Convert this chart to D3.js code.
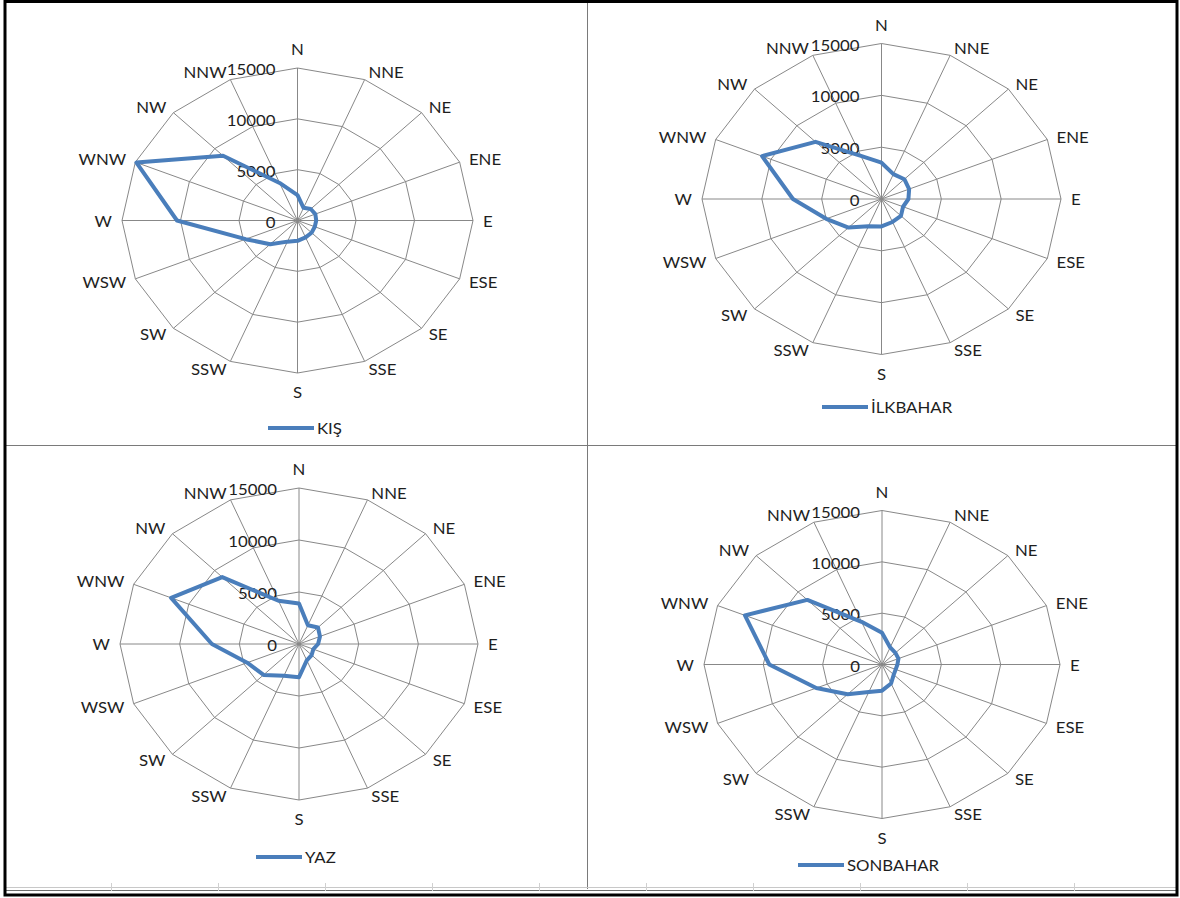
<!DOCTYPE html>
<html>
<head>
<meta charset="utf-8">
<script src="https://cdn.jsdelivr.net/npm/d3@7"></script>
<style>
  body { margin: 0; background: #fff; }
  text { font-family: Lato, 'Open Sans', sans-serif; fill: #1e1e1e; }
</style>
</head>
<body>
<div id="chart"></div>
<script>
// wind directions and seasonal counts
const directions = ['N', 'NNE', 'NE', 'ENE', 'E', 'ESE', 'SE', 'SSE', 'S', 'SSW', 'SW', 'WSW', 'W', 'WNW', 'NW', 'NNW']
const kis = [2500, 1350, 1600, 1650, 1600, 1600, 1700, 1800, 2000, 2250, 3300, 4800, 10300, 14900, 9000, 4000]
const ilkbahar = [3500, 2600, 2700, 2500, 2250, 1950, 2300, 2400, 2650, 2850, 3900, 5000, 7400, 10800, 7800, 4500]
const yaz = [3900, 1950, 2250, 1900, 1600, 1300, 1500, 1700, 3200, 3300, 4200, 4700, 7300, 11600, 9100, 4500]
const sonbahar = [3100, 1800, 1600, 1500, 1300, 1250, 1400, 2000, 2550, 2900, 4100, 6000, 9500, 12500, 8900, 4500]
const ticks = [0, 5000, 10000, 15000]
const seasons = ['KIŞ', 'İLKBAHAR', 'YAZ', 'SONBAHAR']

let width = 1180
let height = 898

let svg = d3
  .select('#chart')
  .append('svg')
  .attr('width', width)
  .attr('height', height)

// the picture is a bit stretched sideways, so each panel gets rx and ry
let panels = [
  { values: kis, cx: 297.5, cy: 220.5, rx: 175.5, ry: 152.5, lx: 268, ly: 428 },
  { values: ilkbahar, cx: 881.5, cy: 199, rx: 179.5, ry: 155.5, lx: 822, ly: 407 },
  { values: yaz, cx: 299, cy: 644, rx: 179, ry: 156, lx: 256, ly: 857 },
  { values: sonbahar, cx: 882, cy: 664.5, rx: 178, ry: 154, lx: 798, ly: 865 }
]

let r = d3.scaleLinear().domain([0, 15000]).range([0, 1])
let angle = d3
  .scalePoint()
  .domain(directions)
  .range([0, (2 * Math.PI * 15) / 16])

let stretch = 'scale(1.12,1)'
let blue = '#4a7ebb'
let grid = '#888'

function pt(p, dir, v) {
  let a = angle(dir)
  return [p.cx + p.rx * r(v) * Math.sin(a), p.cy - p.ry * r(v) * Math.cos(a)]
}

function addText(g, x, y, str, anchor) {
  return g
    .append('text')
    .attr('transform', `translate(${x},${y}) ${stretch}`)
    .attr('text-anchor', anchor)
    .attr('dominant-baseline', 'central')
    .attr('font-size', 15)
    .text(str)
}

panels.forEach((p, i) => {
  let g = svg.append('g').attr('class', 'panel')

  // rings
  ticks.slice(1).forEach(t => {
    g.append('path')
      .datum(directions)
      .attr('d', d3.line().x(d => pt(p, d, t)[0]).y(d => pt(p, d, t)[1]).curve(d3.curveLinearClosed))
      .attr('fill', 'none')
      .attr('stroke', grid)
      .attr('stroke-width', 1)
  })

  // spokes
  g.selectAll('.spoke')
    .data(directions)
    .enter()
    .append('line')
    .attr('class', 'spoke')
    .attr('x1', p.cx)
    .attr('y1', p.cy)
    .attr('x2', d => pt(p, d, 15000)[0])
    .attr('y2', d => pt(p, d, 15000)[1])
    .attr('stroke', grid)
    .attr('stroke-width', 1)

  // tick labels along the N axis
  ticks.forEach(t => {
    addText(g, p.cx - 22, pt(p, 'N', t)[1] + 1, d3.format('d')(t), 'end')
  })

  // direction labels
  directions.forEach(d => {
    let a = angle(d)
    let [x, y] = pt(p, d, 15000)
    let s = Math.sin(a)
    let c = Math.cos(a)
    if (d === 'N') {
      addText(g, x, y - 19, d, 'middle')
    } else if (d === 'S') {
      addText(g, x, y + 19, d, 'middle')
    } else {
      addText(g, x + 10 * s, y - 8 * c, d, s > 0 ? 'start' : 'end')
    }
  })

  // series
  g.append('path')
    .datum(p.values)
    .attr('d', d3.line()
      .x((v, j) => pt(p, directions[j], v)[0])
      .y((v, j) => pt(p, directions[j], v)[1])
      .curve(d3.curveLinearClosed))
    .attr('fill', 'none')
    .attr('stroke', blue)
    .attr('stroke-width', 4)
    .attr('stroke-linejoin', 'round')

  // legend
  g.append('line')
    .attr('x1', p.lx)
    .attr('x2', p.lx + 46)
    .attr('y1', p.ly)
    .attr('y2', p.ly)
    .attr('stroke', blue)
    .attr('stroke-width', 4)
  addText(g, p.lx + 49, p.ly, seasons[i], 'start')
})

// cell borders of the sheet
svg.append('line').attr('x1', 5).attr('x2', 1177).attr('y1', 445.5).attr('y2', 445.5).attr('stroke', '#7a7a7a')
svg.append('line').attr('x1', 587.5).attr('x2', 587.5).attr('y1', 2).attr('y2', 889).attr('stroke', '#7a7a7a')
svg.append('line').attr('x1', 5).attr('x2', 1177).attr('y1', 887.5).attr('y2', 887.5).attr('stroke', '#c8c8c8')
svg.append('line').attr('x1', 5).attr('x2', 1177).attr('y1', 890.5).attr('y2', 890.5).attr('stroke', '#6e6e6e')
d3.range(111, 1177, 107).forEach(x => {
  svg.append('line').attr('x1', x + 0.5).attr('x2', x + 0.5).attr('y1', 883).attr('y2', 891).attr('stroke', '#d0d0d0')
})

// outer black frame
svg.append('rect')
  .attr('x', 5)
  .attr('y', 1.5)
  .attr('width', 1172)
  .attr('height', 893.5)
  .attr('fill', 'none')
  .attr('stroke', '#000')
  .attr('stroke-width', 3)
</script>
</body>
</html>
